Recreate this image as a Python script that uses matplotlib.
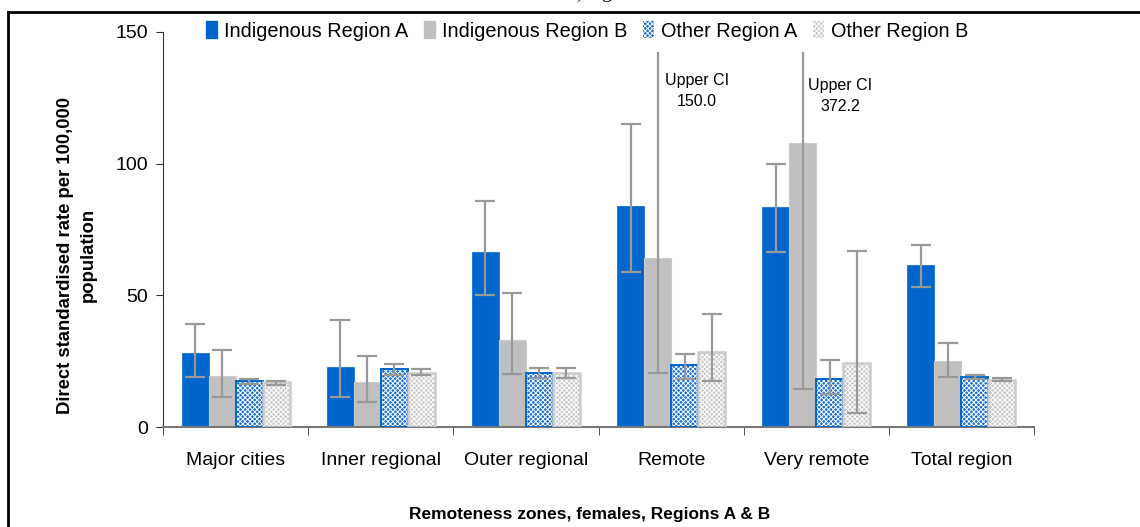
import numpy as np
import matplotlib
matplotlib.use("Agg")
import matplotlib.pyplot as plt
from matplotlib.lines import Line2D
from matplotlib.patches import Patch, Rectangle

plt.rcParams["font.family"] = ["Liberation Sans", "DejaVu Sans"]
plt.rcParams["hatch.linewidth"] = 0.7

# ---------------------------------------------------------------
# Data
# ---------------------------------------------------------------
categories = ["Major cities", "Inner regional", "Outer regional",
              "Remote", "Very remote", "Total region"]
series_names = ["Indigenous Region A", "Indigenous Region B",
                "Other Region A", "Other Region B"]

indig_a = [28.1, 22.9, 66.5, 84.0, 83.5, 61.5]
indig_a_lo = [19.0, 11.5, 50.0, 59.0, 66.5, 53.0]
indig_a_hi = [39.1, 40.6, 86.0, 115.0, 100.0, 69.0]

indig_b = [19.4, 17.1, 33.0, 64.0, 108.0, 25.0]
indig_b_lo = [11.5, 9.6, 20.0, 20.5, 14.6, 19.0]
indig_b_hi = [29.2, 27.1, 51.0, 150.0, 372.2, 32.0]

other_a = [17.6, 22.0, 20.5, 23.5, 18.3, 19.0]
other_a_lo = [16.3, 19.7, 18.5, 18.2, 12.5, 18.3]
other_a_hi = [18.3, 24.0, 22.5, 27.7, 25.4, 19.8]

other_b = [17.1, 20.4, 20.5, 28.5, 24.2, 18.0]
other_b_lo = [16.0, 19.7, 18.5, 17.5, 5.2, 17.5]
other_b_hi = [17.6, 22.0, 22.5, 43.0, 67.0, 18.5]

upper_ci_notes = {3: "Upper CI\n150.0", 4: "Upper CI\n372.2"}

# ---------------------------------------------------------------
# Plot
# ---------------------------------------------------------------
fig = plt.figure(figsize=(11.4, 5.27), dpi=100)
ax = fig.add_axes([163 / 1140, 100 / 527, 871 / 1140, 395 / 527])

x = np.arange(len(categories))
width = 0.186
offsets = np.array([-1.5, -0.5, 0.5, 1.5]) * width

values = [indig_a, indig_b, other_a, other_b]
lows = [indig_a_lo, indig_b_lo, other_a_lo, other_b_lo]
highs = [indig_a_hi, indig_b_hi, other_a_hi, other_b_hi]

blue = "#0066CC"
grey = "#C0C0C0"

# solid bars
ax.bar(x + offsets[0], indig_a, width, color=blue, edgecolor=blue, linewidth=0.5, zorder=2)
ax.bar(x + offsets[1], indig_b, width, color=grey, edgecolor="#CACACA", linewidth=0.8, zorder=2)

# patterned bars: white hatch on top of colour, then outline
ax.bar(x + offsets[2], other_a, width, color="#1670D0", edgecolor="white", hatch="xxxxxxx", linewidth=0, zorder=2)
ax.bar(x + offsets[2], other_a, width, fill=False, edgecolor=blue, linewidth=1.4, zorder=3)
ax.bar(x + offsets[3], other_b, width, color="#C8C8C8", edgecolor="white", hatch="xxxxxxx", linewidth=0, zorder=2)
ax.bar(x + offsets[3], other_b, width, fill=False, edgecolor="#CCCCCC", linewidth=1.8, zorder=3)

# error bars
for off, v, lo, hi in zip(offsets, values, lows, highs):
    v = np.array(v)
    yerr = [v - np.array(lo), np.array(hi) - v]
    ax.errorbar(x + off, v, yerr=yerr, fmt="none", ecolor="#999999",
                elinewidth=1.6, capsize=7, capthick=1.6, zorder=4)

# white band behind the legend (long CI lines stop below it)
ax.add_patch(Rectangle(((195 - 163) / 871, (427 - 52) / 395), (980 - 195) / 871, 1,
                       transform=ax.transAxes, facecolor="white", edgecolor="none",
                       zorder=5, clip_on=False))

note_pos = {3: (3.178, 127.6), 4: (4.164, 125.7)}
for i, note in upper_ci_notes.items():
    nx, ny = note_pos[i]
    ax.text(nx, ny, note, ha="center", va="center", fontsize=11.5, linespacing=1.45, zorder=6)

ax.set_ylim(0, 150)
ax.set_xlim(-0.5, len(categories) - 0.5)
ax.set_yticks([0, 50, 100, 150])
ax.tick_params(axis="y", labelsize=14, length=5, direction="out", color="#333333", pad=6)
ax.set_xticks(x)
ax.set_xticklabels(categories, fontsize=14)
ax.tick_params(axis="x", length=0, pad=18)
ax.set_xticks(np.arange(-0.5, len(categories)), minor=True)
ax.tick_params(axis="x", which="minor", length=6, direction="out", color="#333333")
for s in ["top", "right"]:
    ax.spines[s].set_visible(False)
ax.spines["left"].set_color("#333333")
ax.spines["bottom"].set_color("#777777")
ax.spines["bottom"].set_linewidth(1.5)

ax.set_ylabel("Direct standardised rate per 100,000\npopulation", fontsize=13.3,
              fontweight="bold", linespacing=1.5)
ax.yaxis.set_label_coords((97 - 163) / 871, (427 - 255) / 395)
fig.text(590 / 1140, 1 - 514 / 527, "Remoteness zones, females, Regions A & B",
         ha="center", va="center", fontsize=12.5, fontweight="bold")

# legend
handles = [
    Patch(facecolor=blue, edgecolor=blue),
    Patch(facecolor=grey, edgecolor=grey),
    Patch(facecolor="#1670D0", edgecolor="white", hatch="xxxxxxx", linewidth=0),
    Patch(facecolor="#C8C8C8", edgecolor="white", hatch="xxxxxxx", linewidth=0),
]
leg = fig.legend(handles, series_names, loc="center", bbox_to_anchor=(587 / 1140, 1 - 31 / 527),
                 ncol=4, frameon=False, fontsize=14.3, handlelength=0.55, handleheight=0.9,
                 handletextpad=0.35, columnspacing=0.8)
leg.set_zorder(10)

# page frame and cut-off title above it
fig.add_artist(Line2D([8 / 1140, 8 / 1140], [0, 1 - 12 / 527], transform=fig.transFigure,
                      color="black", linewidth=2))
fig.add_artist(Line2D([8 / 1140, 1], [1 - 12 / 527, 1 - 12 / 527], transform=fig.transFigure,
                      color="black", linewidth=2))
fig.text(582 / 1140, 1 + 2 / 527, "Direct standardised rates and remoteness,", ha="right",
         va="baseline", fontsize=14, family="Liberation Serif")
fig.text(588 / 1140, 1 + 2 / 527, "regions", ha="left",
         va="baseline", fontsize=14, family="Liberation Serif")

fig.savefig("out.png", dpi=100)
